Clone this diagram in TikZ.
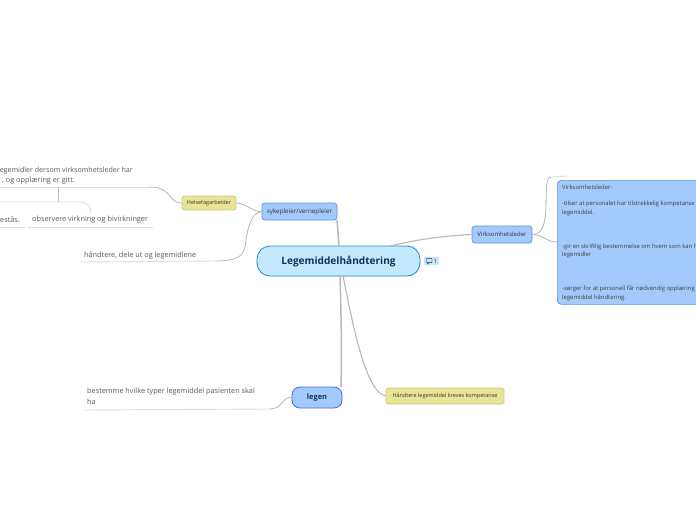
\documentclass[tikz,border=0pt]{standalone}
\usepackage{fontspec}
\setmainfont{Open Sans}
\definecolor{linegrey}{HTML}{B8B8B8}
\definecolor{underl}{HTML}{DDDDDD}
\definecolor{txt}{HTML}{5A5A5A}
\definecolor{bluefill}{HTML}{A3C9FD}
\definecolor{blueedge}{HTML}{5B93E8}
\definecolor{yelfill}{HTML}{E9E596}
\definecolor{yeledge}{HTML}{CFCB7A}
\definecolor{mainfill}{HTML}{C4E8FD}
\definecolor{mainedge}{HTML}{1F86D0}
\definecolor{navy}{HTML}{12305E}
\tikzset{
  x=1pt,y=-1pt,
  conn/.style={draw=linegrey,line width=0.8pt},
  trunk/.style={draw=linegrey,line width=1.5pt},
  uline/.style={draw=underl,line width=0.9pt},
  bluebox/.style={draw=blueedge,fill=bluefill,rounded corners=3pt,line width=0.7pt,inner sep=0pt,text=black!80,font=\fontsize{6}{7}\selectfont},
  yelbox/.style={draw=yeledge,fill=yelfill,rounded corners=2.5pt,line width=0.7pt,inner sep=0pt,text=black!80,font=\fontsize{5.5}{6}\selectfont},
  leaf/.style={anchor=west,inner sep=0pt,text=txt,font=\fontsize{7.3}{10}\selectfont},
  boxline/.style={anchor=west,inner sep=0pt,text=black!75,font=\fontsize{5.9}{7}\selectfont},
}
\begin{document}
\begin{tikzpicture}
\useasboundingbox (0,0) rectangle (696,520);
\clip (0,0) rectangle (696,520);
\fill[white] (0,0) rectangle (696,520);

% nodes
\node[draw=mainedge,fill=mainfill,rounded corners=13pt,line width=0.8pt,minimum width=163pt,minimum height=30pt,inner sep=0pt,text=navy,font=\fontsize{10.1}{11}\selectfont\bfseries] (main) at (338.5,261) {Legemiddelhåndtering};
\node[bluebox,minimum width=75pt,minimum height=17pt,font=\fontsize{6.3}{7}\selectfont] (syk) at (299.5,211.5) {sykepleier/vernepleier};
\node[bluebox,minimum width=60pt,minimum height=17pt] (vir) at (502,234.5) {Virksomhetsleder};
\node[yelbox,minimum width=54pt,minimum height=14pt] (hel) at (209,203) {Helsefagarbeider};
\node[yelbox,minimum width=118pt,minimum height=16pt] (hand) at (445,396) {Håndtere legemiddel kreves kompetanse};
\node[draw=blueedge!70!blue,fill=bluefill,rounded corners=8pt,line width=0.8pt,minimum width=50pt,minimum height=21pt,inner sep=0pt,text=navy,font=\fontsize{7.4}{9}\selectfont\bfseries] (leg) at (317,397.5) {legen};
\node[draw=blueedge,fill=bluefill,rounded corners=4pt,line width=0.7pt,minimum width=150pt,minimum height=124pt,anchor=north west,inner sep=0pt] (big) at (557,180) {};

% text of the big box
\node[boxline] (b1) at (562,187) {Virksomhetsleder-};
\node[boxline] (b2) at (562,204) {-tilser at personalet har tilstrekkelig kompetanse};
\node[boxline] (b3) at (562,213) {legemiddel.};
\node[boxline] (b4) at (562,247) {-gir en skriftlig bestemmelse om hvem som kan h};
\node[boxline] (b5) at (562,255) {legemidler};
\node[boxline] (b6) at (562,289) {-sørger for at personell får nødvendig opplæring};
\node[boxline] (b7) at (562,298) {legemiddel håndtering.};

% leaf texts
\node[leaf,anchor=east,font=\fontsize{7.1}{10}\selectfont] (t1) at (133,171) {egemidler dersom virksomhetsleder har};
\node[leaf,anchor=east] (t2) at (75,181) {, og opplæring er gitt.};
\node[leaf,anchor=east] (t3) at (20,220) {estås.};
\node[leaf] (t4) at (32,220) {observere virkning og bivirkninger};
\node[leaf] (t5) at (84,255) {håndtere, dele ut og legemidlene};
\node[leaf] (t6) at (87,392) {bestemme hvilke typer legemiddel pasienten skal};
\node[leaf] (t7) at (87,402) {ha};

% free ends
\coordinate (u1a) at (0,187);
\coordinate (u1b) at (150,187);
\coordinate (j1) at (58,187);
\coordinate (j2) at (58,202);
\coordinate (u3a) at (0,227);
\coordinate (u3b) at (25,227);
\coordinate (u4a) at (28,227);
\coordinate (u4b) at (153,227);
\coordinate (u2a) at (0,202);
\coordinate (u2b) at (80,202);
\coordinate (u4t) at (91,213);
\coordinate (u5a) at (80,262);
\coordinate (u5b) at (215,261);
\coordinate (u5m) at (246,240);
\coordinate (u6a) at (83,410);
\coordinate (u6b) at (270,409);
\coordinate (stubA) at (551,177);
\coordinate (stubB) at (567,176);

% connectors
\draw[trunk] (337,220) -- (339,246);
\draw[conn,line width=1.1pt] (390,246) .. controls (415,240) and (440,236) .. (vir.west);
\draw[trunk] (340,276) .. controls (341,310) and (342,350) .. (341,387);
\draw[conn,line width=1.1pt] (343,276) .. controls (352,320) and (365,392) .. (hand.west);
\draw[conn] (syk.west) .. controls (252,212) and (248,204) .. (hel.east);
\draw[conn] (syk.west) .. controls (253,212) and (248,225) .. (u5m) .. controls (245,255) and (240,261) .. (u5b);
\draw[conn] (hel.west) .. controls (168,203) and (172,187) .. (u1b);
\draw[uline] (u1a) -- (u1b);
\draw[trunk,line width=1pt,draw=underl!85!black] (j1) -- (j2);
\draw[uline] (u2a) -- (u2b) .. controls (87,202) and (91,206) .. (u4t);
\draw[uline] (u3a) -- (u3b);
\draw[uline] (u4a) -- (u4b);
\draw[uline] (u5a) -- (u5b);
\draw[conn] (vir.east) .. controls (555,235) and (540,177) .. (stubA);
\draw[uline] (stubA) -- (stubB);
\draw[conn] (vir.east) .. controls (545,235) and (545,242) .. (big.west |- 0,242);
\draw[conn] (leg.west) .. controls (282,397) and (282,409) .. (u6b);
\draw[uline] (u6a) -- (u6b);

% comment badge
\fill[mainfill] (424,257) rectangle (439,265);
\draw[navy,line width=0.45pt,rounded corners=0.6pt] (426.5,258.3) rectangle (432,262.6);
\draw[navy,line width=0.45pt] (427.5,262.6) -- (427.5,264) -- (429,262.6);
\node[inner sep=0pt,text=navy,font=\fontsize{5.6}{7}\selectfont] (cnt) at (435.5,261) {1};
\end{tikzpicture}
\end{document}
